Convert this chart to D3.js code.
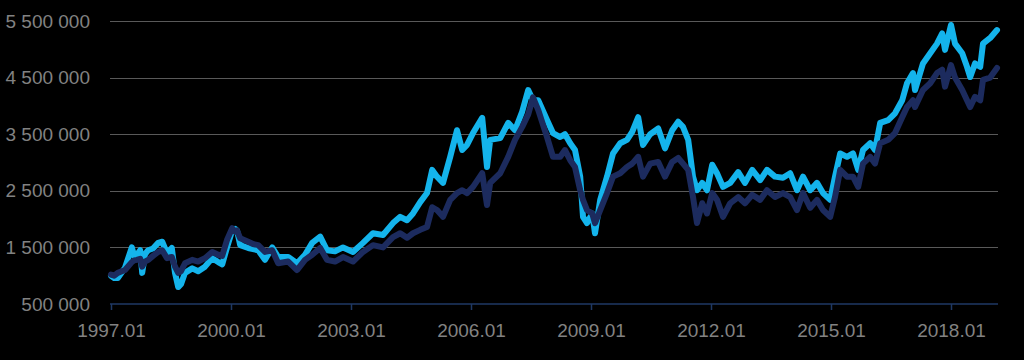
<!DOCTYPE html>
<html>
<head>
<meta charset="utf-8">
<script src="https://cdn.jsdelivr.net/npm/d3@7"></script>
<style>
  html, body { margin: 0; padding: 0; background: #000; }
  svg { display: block; font-family: "Liberation Sans", Arial, sans-serif; }
</style>
</head>
<body>
<div id="chart"></div>
<script>
// decimal years of the sampled points
const years = [
  1997.00, 1997.08, 1997.17, 1997.35, 1997.52, 1997.58, 1997.65, 1997.73, 1997.78, 1997.85,
  1997.93, 1998.05, 1998.18, 1998.28, 1998.40, 1998.52, 1998.60, 1998.68, 1998.75, 1998.85,
  1999.03, 1999.18, 1999.35, 1999.53, 1999.68, 1999.78, 1999.90, 2000.03, 2000.10, 2000.15,
  2000.23, 2000.43, 2000.55, 2000.68, 2000.85, 2001.03, 2001.18, 2001.43, 2001.65, 2001.85,
  2002.03, 2002.23, 2002.40, 2002.60, 2002.80, 2003.05, 2003.30, 2003.55, 2003.80, 2004.05,
  2004.23, 2004.40, 2004.55, 2004.73, 2004.90, 2005.03, 2005.15, 2005.30, 2005.48, 2005.65,
  2005.78, 2005.90, 2006.05, 2006.28, 2006.40, 2006.48, 2006.73, 2006.93, 2007.10, 2007.28,
  2007.43, 2007.55, 2007.68, 2007.90, 2008.05, 2008.23, 2008.35, 2008.48, 2008.60, 2008.73,
  2008.80, 2008.90, 2009.03, 2009.10, 2009.23, 2009.40, 2009.55, 2009.73, 2009.90, 2010.03,
  2010.18, 2010.30, 2010.48, 2010.68, 2010.85, 2011.03, 2011.18, 2011.30, 2011.43, 2011.55,
  2011.65, 2011.78, 2011.90, 2012.03, 2012.15, 2012.30, 2012.48, 2012.68, 2012.85, 2013.03,
  2013.23, 2013.40, 2013.60, 2013.80, 2013.98, 2014.15, 2014.30, 2014.48, 2014.65, 2014.80,
  2014.98, 2015.10, 2015.23, 2015.40, 2015.55, 2015.68, 2015.80, 2015.98, 2016.10, 2016.23,
  2016.43, 2016.60, 2016.78, 2016.90, 2017.05, 2017.10, 2017.30, 2017.48, 2017.65, 2017.78,
  2017.85, 2018.00, 2018.10, 2018.28, 2018.40, 2018.48, 2018.60, 2018.73, 2018.80, 2018.98,
  2019.15
];

// light blue series (thousands)
const lightSeries = [
  1000, 960, 960, 1140, 1500, 1350, 1370, 1450, 1050, 1380,
  1450, 1480, 1580, 1600, 1400, 1490, 1050, 800, 850, 1050,
  1130, 1080, 1160, 1310, 1240, 1200, 1500, 1800, 1830, 1800,
  1540, 1490, 1470, 1450, 1280, 1500, 1330, 1330, 1220, 1370,
  1580, 1690, 1450, 1430, 1500, 1420, 1580, 1750, 1720, 1930,
  2040, 1980, 2100, 2300, 2460, 2870, 2750, 2640, 3100, 3570,
  3220, 3310, 3520, 3790, 2920, 3400, 3430, 3700, 3570, 3900,
  4280, 4100, 4100, 3750, 3520, 3450, 3500, 3340, 3220, 2750,
  2040, 1930, 2100, 1750, 2340, 2750, 3160, 3340, 3400, 3540,
  3800, 3310, 3500, 3600, 3250, 3570, 3720, 3630, 3400, 2750,
  2510, 2640, 2510, 2960, 2810, 2570, 2640, 2830, 2640, 2870,
  2690, 2870, 2750, 2730, 2810, 2510, 2750, 2510, 2640, 2460,
  2340, 2750, 3160, 3100, 3160, 2870, 3220, 3340, 3220, 3700,
  3750, 3870, 4100, 4400, 4580, 4280, 4750, 4930, 5100, 5280,
  4990, 5430, 5100, 4930, 4690, 4510, 4750, 4690, 5100, 5200,
  5340
];

// dark navy series (thousands)
const darkSeries = [
  1020, 1000, 1050, 1100, 1240, 1270, 1280, 1300, 1160, 1250,
  1280, 1350, 1420, 1450, 1310, 1330, 1160, 1050, 1080, 1220,
  1280, 1250, 1310, 1420, 1370, 1350, 1630, 1840, 1780, 1800,
  1660, 1600, 1560, 1540, 1420, 1450, 1220, 1250, 1100, 1280,
  1370, 1490, 1280, 1250, 1330, 1250, 1420, 1540, 1500, 1680,
  1750, 1670, 1750, 1810, 1860, 2210, 2160, 2040, 2340, 2460,
  2510, 2460, 2570, 2810, 2250, 2640, 2810, 3100, 3400, 3630,
  3850, 4150, 3930, 3450, 3100, 3100, 3220, 3040, 2920, 2510,
  2340, 2160, 2100, 1930, 2160, 2460, 2750, 2810, 2920, 2980,
  3100, 2750, 2980, 3010, 2750, 3010, 3080, 2980, 2870, 2390,
  1930, 2280, 2100, 2460, 2340, 2040, 2280, 2390, 2280, 2430,
  2340, 2510, 2390, 2460, 2390, 2160, 2460, 2200, 2340, 2160,
  2040, 2390, 2870, 2750, 2750, 2570, 2980, 3100, 2980, 3340,
  3400, 3520, 3800, 3980, 4100, 3980, 4280, 4400, 4580, 4640,
  4340, 4720, 4500, 4280, 4100, 3980, 4160, 4100, 4460, 4500,
  4670
];

const yTicks = [500000, 1500000, 2500000, 3500000, 4500000, 5500000];
const xTicks = [1997, 2000, 2003, 2006, 2009, 2012, 2015, 2018];
const xTickLabels = ['1997.01', '2000.01', '2003.01', '2006.01', '2009.01', '2012.01', '2015.01', '2018.01'];

const width = 1024;
const height = 360;

const svg = d3.select('#chart')
  .append('svg')
  .attr('width', width)
  .attr('height', height);

svg.append('rect')
  .attr('width', width)
  .attr('height', height)
  .attr('fill', '#000');

const xScale = d3.scaleLinear()
  .domain([1997, 2019.175])
  .range([111, 998]);

const yScale = d3.scaleLinear()
  .domain([500000, 5500000])
  .range([304, 21]);

// numbers grouped with spaces, e.g. 5 500 000
const fmt = d3.formatLocale({ decimal: ',', thousands: '\u00a0', grouping: [3], currency: ['', ''] }).format(',d');

// horizontal gridlines
svg.append('g')
  .selectAll('line')
  .data(yTicks.slice(1))
  .join('line')
  .attr('x1', 110)
  .attr('x2', 998)
  .attr('y1', d => Math.round(yScale(d)) + 0.5)
  .attr('y2', d => Math.round(yScale(d)) + 0.5)
  .attr('stroke', '#595959')
  .attr('stroke-width', 1);

// y labels
svg.append('g')
  .selectAll('text')
  .data(yTicks)
  .join('text')
  .attr('x', 90)
  .attr('y', d => yScale(d))
  .attr('dy', '0.35em')
  .attr('text-anchor', 'end')
  .attr('fill', '#828282')
  .style('font-size', '19px')
  .text(d => fmt(d));

// lines, light first so navy sits on top
const line = (values) => d3.line()
  .x((d, i) => xScale(years[i]))
  .y(d => yScale(d * 1000))(values);

svg.append('path')
  .attr('d', line(lightSeries))
  .attr('fill', 'none')
  .attr('stroke', '#14b4ec')
  .attr('stroke-width', 6)
  .attr('stroke-linejoin', 'round')
  .attr('stroke-linecap', 'round');

svg.append('path')
  .attr('d', line(darkSeries))
  .attr('fill', 'none')
  .attr('stroke', '#1c2b5e')
  .attr('stroke-width', 6)
  .attr('stroke-linejoin', 'round')
  .attr('stroke-linecap', 'round');

// x axis
const xAxis = svg.append('g')
  .attr('transform', `translate(0, ${yScale(500000)})`)
  .call(d3.axisBottom(xScale)
    .tickValues(xTicks)
    .tickFormat((d, i) => xTickLabels[i])
    .tickSize(6)
    .tickSizeOuter(0)
    .tickPadding(14));

xAxis.select('.domain')
  .attr('stroke', '#1f3864')
  .attr('stroke-width', 1.5)
  .attr('d', `M110,0H998`);
xAxis.selectAll('.tick line')
  .attr('stroke', '#1f3864')
  .attr('stroke-width', 1.5);
xAxis.selectAll('.tick text')
  .attr('fill', '#828282')
  .style('font-size', '19px')
  .style('font-family', '"Liberation Sans", Arial, sans-serif');
</script>
</body>
</html>
